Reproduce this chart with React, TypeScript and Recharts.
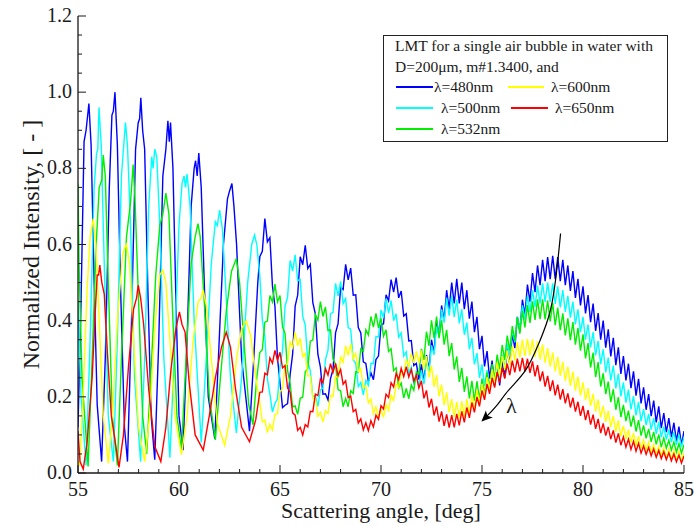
import { LineChart, Line, XAxis, YAxis, Legend, ReferenceDot } from "recharts"

const SERIF = '"Liberation Serif", "DejaVu Serif", serif'
const INK = "#1a1a1a"

// axis ticks
const angleTicks = [55, 56, 57, 58, 59, 60, 61, 62, 63, 64, 65, 66, 67, 68, 69, 70, 71, 72, 73, 74, 75, 76, 77, 78, 79, 80, 81, 82, 83, 84, 85]
const angleLabels = [55, 60, 65, 70, 75, 80, 85]
const intensityTicks = [0, 0.05, 0.1, 0.15, 0.2, 0.25, 0.3, 0.35, 0.4, 0.45, 0.5, 0.55, 0.6, 0.65, 0.7, 0.75, 0.8, 0.85, 0.9, 0.95, 1, 1.05, 1.1, 1.15, 1.2]
const intensityLabels = [0, 0.2, 0.4, 0.6, 0.8, 1, 1.2]

const wavelengths = ["λ=480nm", "λ=500nm", "λ=532nm", "λ=600nm", "λ=650nm"]
const seriesColors = ["#0000ff", "#00ffff", "#00ee00", "#ffff00", "#ff0000"]
const legendTitle = ["LMT for a single air bubble in water with", "D=200μm, m#1.3400, and"]

// 55-64 deg: peaks / troughs, [angle, intensity]
const blueHead = [
  [55.0, 0.12], [55.15, 0.45], [55.3, 0.87], [55.4, 0.9], [55.54, 0.97], [55.65, 0.86], [55.8, 0.5], [55.95, 0.18],
  [56.17, 0.03], [56.35, 0.3], [56.55, 0.75], [56.68, 0.94], [56.75, 0.95], [56.83, 1.0], [56.95, 0.86], [57.1, 0.5],
  [57.3, 0.12], [57.45, 0.03], [57.65, 0.4], [57.85, 0.85], [57.98, 0.92], [58.05, 0.93], [58.11, 0.985], [58.2, 0.9],
  [58.3, 0.85], [58.45, 0.5], [58.62, 0.15], [58.8, 0.035], [59.0, 0.35], [59.2, 0.78], [59.35, 0.85], [59.45, 0.925],
  [59.52, 0.87], [59.58, 0.92], [59.7, 0.8], [59.85, 0.45], [60.0, 0.15], [60.2, 0.06], [60.4, 0.35], [60.6, 0.7],
  [60.75, 0.8], [60.82, 0.82], [60.9, 0.78], [60.98, 0.84], [61.1, 0.75], [61.25, 0.5], [61.45, 0.2], [61.77, 0.09],
  [61.95, 0.3], [62.2, 0.6], [62.4, 0.72], [62.5, 0.74], [62.62, 0.76], [62.72, 0.7], [62.85, 0.6], [63.1, 0.3],
  [63.49, 0.11], [63.7, 0.3], [63.9, 0.5],
]
const cyanHead = [
  [55.0, 0.45], [55.15, 0.2], [55.4, 0.02], [55.6, 0.35], [55.8, 0.75], [55.92, 0.84], [55.98, 0.85], [56.04, 0.96],
  [56.15, 0.86], [56.3, 0.55], [56.5, 0.15], [56.75, 0.03], [56.95, 0.35], [57.15, 0.78], [57.25, 0.85], [57.35, 0.92],
  [57.45, 0.86], [57.6, 0.65], [57.8, 0.25], [58.1, 0.03], [58.3, 0.3], [58.5, 0.7], [58.65, 0.83], [58.72, 0.8],
  [58.8, 0.85], [58.9, 0.83], [59.05, 0.65], [59.25, 0.3], [59.55, 0.04], [59.8, 0.35], [60.0, 0.65], [60.15, 0.76],
  [60.25, 0.78], [60.32, 0.75], [60.4, 0.785], [60.55, 0.7], [60.75, 0.4], [61.1, 0.08], [61.35, 0.3], [61.6, 0.55],
  [61.8, 0.66], [61.9, 0.65], [62.01, 0.69], [62.15, 0.64], [62.35, 0.45], [62.55, 0.25], [62.84, 0.105], [63.1, 0.25],
  [63.4, 0.5], [63.6, 0.6], [63.74, 0.625], [63.85, 0.6],
]
const greenHead = [
  [55.0, 0.76], [55.05, 0.55], [55.2, 0.25], [55.5, 0.017], [55.7, 0.3], [55.9, 0.6], [56.05, 0.75], [56.18, 0.77],
  [56.25, 0.835], [56.35, 0.78], [56.5, 0.5], [56.7, 0.15], [56.95, 0.02], [57.15, 0.3], [57.4, 0.62], [57.6, 0.71],
  [57.73, 0.81], [57.82, 0.72], [58.0, 0.45], [58.2, 0.15], [58.4, 0.05], [58.6, 0.25], [58.85, 0.52], [59.05, 0.65],
  [59.2, 0.68], [59.35, 0.735], [59.5, 0.68], [59.7, 0.4], [59.9, 0.15], [60.12, 0.06], [60.35, 0.3], [60.6, 0.55],
  [60.8, 0.62], [60.94, 0.655], [61.05, 0.62], [61.25, 0.45], [61.5, 0.2], [61.8, 0.087], [62.05, 0.25], [62.35, 0.43],
  [62.6, 0.53], [62.84, 0.563], [63.0, 0.5], [63.25, 0.32], [63.45, 0.18], [63.66, 0.127], [63.85, 0.25],
]
const yellowHead = [
  [55.0, 0.03], [55.08, 0.02], [55.25, 0.2], [55.45, 0.48], [55.6, 0.62], [55.76, 0.668], [55.88, 0.6], [56.05, 0.4],
  [56.25, 0.15], [56.5, 0.025], [56.7, 0.15], [56.95, 0.4], [57.2, 0.57], [57.3, 0.59], [57.4, 0.6], [57.55, 0.55],
  [57.75, 0.35], [58.0, 0.12], [58.3, 0.03], [58.55, 0.15], [58.8, 0.38], [59.05, 0.52], [59.2, 0.533], [59.35, 0.5],
  [59.55, 0.35], [59.8, 0.15], [60.12, 0.048], [60.4, 0.15], [60.7, 0.35], [60.95, 0.45], [61.1, 0.46], [61.19, 0.48],
  [61.35, 0.44], [61.6, 0.3], [61.9, 0.13], [62.26, 0.073], [62.55, 0.15], [62.85, 0.3], [63.1, 0.38], [63.33, 0.4],
  [63.55, 0.36], [63.8, 0.25],
]
const redHead = [
  [55.0, 0.11], [55.1, 0.03], [55.26, 0.01], [55.45, 0.08], [55.7, 0.25], [55.88, 0.45], [55.95, 0.52], [56.02, 0.52],
  [56.08, 0.546], [56.18, 0.5], [56.3, 0.47], [56.45, 0.32], [56.65, 0.15], [57.03, 0.015], [57.25, 0.1], [57.5, 0.28],
  [57.75, 0.43], [57.9, 0.46], [57.98, 0.493], [58.1, 0.46], [58.25, 0.39], [58.5, 0.22], [58.8, 0.07], [59.1, 0.03],
  [59.35, 0.12], [59.6, 0.27], [59.85, 0.38], [60.02, 0.423], [60.15, 0.39], [60.3, 0.37], [60.5, 0.24], [60.8, 0.1],
  [61.2, 0.06], [61.5, 0.15], [61.8, 0.25], [62.1, 0.33], [62.34, 0.37], [62.55, 0.33], [62.8, 0.22], [63.1, 0.12],
  [63.49, 0.082], [63.8, 0.14],
]

// 64-85 deg: the fine ripple, one reading every 0.125 deg
const RIPPLE_START = 64
const RIPPLE_STEP = 0.125
const blueRipple = [
  0.568, 0.582, 0.668, 0.607, 0.618, 0.492, 0.438, 0.302,
  0.238, 0.172, 0.178, 0.182, 0.258, 0.312, 0.438, 0.467,
  0.568, 0.547, 0.598, 0.537, 0.548, 0.447, 0.418, 0.312,
  0.278, 0.207, 0.208, 0.192, 0.248, 0.272, 0.368, 0.392,
  0.488, 0.482, 0.548, 0.507, 0.538, 0.467, 0.468, 0.382,
  0.368, 0.292, 0.288, 0.24, 0.263, 0.245, 0.298, 0.307,
  0.388, 0.392, 0.468, 0.452, 0.508, 0.475, 0.513, 0.46,
  0.478, 0.412, 0.418, 0.347, 0.348, 0.282, 0.288, 0.245,
  0.285, 0.238, 0.31, 0.27, 0.35, 0.315, 0.4, 0.36,
  0.44, 0.4, 0.48, 0.43, 0.5, 0.445, 0.51, 0.445,
  0.5, 0.43, 0.48, 0.405, 0.45, 0.37, 0.41, 0.325,
  0.36, 0.28, 0.32, 0.248, 0.295, 0.23, 0.285, 0.23,
  0.295, 0.25, 0.325, 0.285, 0.365, 0.328, 0.41, 0.373,
  0.455, 0.415, 0.495, 0.45, 0.525, 0.475, 0.545, 0.493,
  0.56, 0.504, 0.567, 0.509, 0.57, 0.509, 0.567, 0.504,
  0.56, 0.493, 0.545, 0.478, 0.53, 0.46, 0.51, 0.44,
  0.49, 0.419, 0.467, 0.396, 0.445, 0.373, 0.42, 0.35,
  0.4, 0.329, 0.377, 0.306, 0.355, 0.283, 0.33, 0.26,
  0.307, 0.243, 0.287, 0.223, 0.267, 0.203, 0.247, 0.183,
  0.225, 0.166, 0.207, 0.149, 0.19, 0.133, 0.175, 0.118,
  0.157, 0.107, 0.144, 0.094, 0.132, 0.083, 0.122, 0.073,
  0.11,
]
const cyanRipple = [
  0.518, 0.402, 0.358, 0.247, 0.208, 0.16, 0.183, 0.195,
  0.278, 0.322, 0.438, 0.462, 0.558, 0.53, 0.573, 0.505,
  0.508, 0.412, 0.388, 0.292, 0.268, 0.2, 0.203, 0.175,
  0.218, 0.222, 0.298, 0.322, 0.418, 0.422, 0.498, 0.465,
  0.503, 0.445, 0.458, 0.382, 0.378, 0.297, 0.288, 0.227,
  0.238, 0.205, 0.243, 0.23, 0.288, 0.287, 0.358, 0.357,
  0.428, 0.407, 0.458, 0.42, 0.453, 0.4, 0.418, 0.357,
  0.368, 0.307, 0.318, 0.262, 0.278, 0.232, 0.258, 0.225,
  0.27, 0.233, 0.295, 0.265, 0.335, 0.31, 0.385, 0.358,
  0.43, 0.395, 0.46, 0.413, 0.465, 0.41, 0.455, 0.393,
  0.43, 0.363, 0.395, 0.325, 0.355, 0.285, 0.315, 0.25,
  0.285, 0.228, 0.27, 0.22, 0.27, 0.228, 0.285, 0.248,
  0.31, 0.275, 0.34, 0.308, 0.375, 0.343, 0.41, 0.375,
  0.44, 0.403, 0.465, 0.423, 0.48, 0.436, 0.492, 0.445,
  0.498, 0.449, 0.5, 0.449, 0.498, 0.444, 0.49, 0.435,
  0.48, 0.423, 0.465, 0.408, 0.45, 0.39, 0.43, 0.37,
  0.41, 0.35, 0.39, 0.33, 0.37, 0.309, 0.347, 0.286,
  0.325, 0.264, 0.303, 0.243, 0.282, 0.222, 0.261, 0.201,
  0.238, 0.185, 0.219, 0.167, 0.202, 0.151, 0.187, 0.136,
  0.168, 0.126, 0.155, 0.114, 0.144, 0.103, 0.134, 0.094,
  0.122, 0.088, 0.114, 0.081, 0.107, 0.074, 0.101, 0.068,
  0.095,
]
const greenRipple = [
  0.316, 0.324, 0.396, 0.399, 0.466, 0.449, 0.496, 0.449,
  0.466, 0.384, 0.366, 0.269, 0.236, 0.174, 0.176, 0.154,
  0.196, 0.199, 0.266, 0.274, 0.346, 0.349, 0.416, 0.401,
  0.45, 0.411, 0.436, 0.374, 0.376, 0.299, 0.286, 0.219,
  0.216, 0.174, 0.196, 0.174, 0.216, 0.209, 0.266, 0.264,
  0.326, 0.319, 0.376, 0.362, 0.411, 0.383, 0.419, 0.381,
  0.406, 0.359, 0.376, 0.319, 0.326, 0.269, 0.276, 0.224,
  0.236, 0.197, 0.222, 0.195, 0.231, 0.217, 0.266, 0.259,
  0.326, 0.297, 0.371, 0.334, 0.401, 0.354, 0.411, 0.354,
  0.401, 0.337, 0.376, 0.307, 0.341, 0.272, 0.306, 0.239,
  0.276, 0.213, 0.254, 0.196, 0.242, 0.19, 0.241, 0.193,
  0.248, 0.204, 0.264, 0.223, 0.286, 0.247, 0.311, 0.272,
  0.336, 0.297, 0.361, 0.322, 0.386, 0.346, 0.409, 0.366,
  0.426, 0.382, 0.441, 0.394, 0.451, 0.402, 0.456, 0.404,
  0.456, 0.403, 0.453, 0.398, 0.446, 0.388, 0.434, 0.375,
  0.419, 0.361, 0.406, 0.349, 0.396, 0.337, 0.381, 0.321,
  0.364, 0.301, 0.341, 0.277, 0.316, 0.252, 0.291, 0.227,
  0.262, 0.207, 0.24, 0.186, 0.22, 0.166, 0.199, 0.147,
  0.179, 0.136, 0.164, 0.122, 0.151, 0.109, 0.139, 0.098,
  0.125, 0.091, 0.116, 0.082, 0.108, 0.075, 0.101, 0.068,
  0.092, 0.065, 0.086, 0.06, 0.081, 0.055, 0.077, 0.052,
  0.074,
]
const yellowRipple = [
  0.184, 0.134, 0.139, 0.106, 0.128, 0.113, 0.154, 0.156,
  0.214, 0.221, 0.284, 0.286, 0.344, 0.329, 0.37, 0.334,
  0.354, 0.306, 0.314, 0.256, 0.254, 0.196, 0.194, 0.149,
  0.159, 0.134, 0.164, 0.156, 0.204, 0.201, 0.254, 0.251,
  0.304, 0.291, 0.334, 0.309, 0.339, 0.299, 0.314, 0.266,
  0.274, 0.224, 0.229, 0.184, 0.194, 0.156, 0.174, 0.143,
  0.168, 0.146, 0.179, 0.164, 0.204, 0.191, 0.234, 0.224,
  0.269, 0.256, 0.299, 0.279, 0.314, 0.289, 0.319, 0.289,
  0.322, 0.271, 0.307, 0.251, 0.282, 0.226, 0.257, 0.201,
  0.232, 0.178, 0.212, 0.159, 0.194, 0.147, 0.187, 0.144,
  0.188, 0.147, 0.194, 0.155, 0.204, 0.167, 0.218, 0.182,
  0.234, 0.199, 0.252, 0.218, 0.272, 0.237, 0.29, 0.255,
  0.307, 0.271, 0.322, 0.284, 0.334, 0.295, 0.344, 0.303,
  0.35, 0.307, 0.352, 0.308, 0.351, 0.305, 0.346, 0.298,
  0.338, 0.289, 0.328, 0.279, 0.317, 0.267, 0.305, 0.255,
  0.292, 0.242, 0.279, 0.229, 0.266, 0.216, 0.253, 0.203,
  0.238, 0.191, 0.223, 0.176, 0.208, 0.161, 0.193, 0.146,
  0.176, 0.134, 0.163, 0.121, 0.15, 0.108, 0.138, 0.097,
  0.124, 0.089, 0.114, 0.08, 0.105, 0.071, 0.097, 0.064,
  0.087, 0.06, 0.081, 0.054, 0.075, 0.049, 0.07, 0.044,
  0.066, 0.04, 0.062, 0.037, 0.059, 0.034, 0.056, 0.031,
  0.053,
]
const redRipple = [
  0.212, 0.213, 0.262, 0.258, 0.302, 0.288, 0.322, 0.296,
  0.317, 0.276, 0.282, 0.223, 0.212, 0.158, 0.152, 0.112,
  0.12, 0.1, 0.127, 0.121, 0.162, 0.161, 0.207, 0.203,
  0.247, 0.237, 0.274, 0.257, 0.287, 0.264, 0.288, 0.256,
  0.272, 0.233, 0.242, 0.198, 0.202, 0.161, 0.167, 0.131,
  0.142, 0.113, 0.132, 0.111, 0.137, 0.121, 0.152, 0.141,
  0.177, 0.168, 0.207, 0.198, 0.237, 0.226, 0.262, 0.245,
  0.275, 0.253, 0.279, 0.252, 0.272, 0.241, 0.257, 0.223,
  0.242, 0.196, 0.217, 0.172, 0.195, 0.151, 0.175, 0.135,
  0.162, 0.124, 0.154, 0.119, 0.152, 0.12, 0.155, 0.125,
  0.162, 0.133, 0.172, 0.145, 0.185, 0.159, 0.2, 0.175,
  0.217, 0.192, 0.234, 0.208, 0.25, 0.224, 0.265, 0.237,
  0.277, 0.248, 0.287, 0.257, 0.295, 0.264, 0.3, 0.267,
  0.302, 0.267, 0.3, 0.263, 0.293, 0.254, 0.283, 0.241,
  0.267, 0.227, 0.255, 0.215, 0.243, 0.204, 0.232, 0.193,
  0.22, 0.183, 0.209, 0.172, 0.198, 0.161, 0.187, 0.15,
  0.176, 0.139, 0.165, 0.127, 0.153, 0.116, 0.142, 0.105,
  0.13, 0.098, 0.121, 0.089, 0.112, 0.08, 0.104, 0.073,
  0.095, 0.068, 0.089, 0.062, 0.083, 0.057, 0.078, 0.052,
  0.071, 0.049, 0.067, 0.045, 0.063, 0.041, 0.059, 0.038,
  0.056, 0.035, 0.053, 0.032, 0.05, 0.029, 0.047, 0.026,
  0.045,
]

// the curved "lambda" arrow, in data units
const arrowPath = [
  [78.89, 0.629], [78.72, 0.541], [78.39, 0.428], [77.81, 0.34], [77.16, 0.27], [76.33, 0.218], [75.68, 0.174], [75.01, 0.137],
]

function toSeries(head: number[][], ripple: number[]) {
  return [
    ...head.map(([angle, value]) => ({ angle, value })),
    ...ripple.map((value, i) => ({ angle: RIPPLE_START + i * RIPPLE_STEP, value })),
  ]
}

const series = [
  toSeries(blueHead, blueRipple),
  toSeries(cyanHead, cyanRipple),
  toSeries(greenHead, greenRipple),
  toSeries(yellowHead, yellowRipple),
  toSeries(redHead, redRipple),
]
const arrowData = arrowPath.map(([angle, value]) => ({ angle, value }))

const BottomTick = (props: any) => {
  const { x, y, payload } = props
  const major = angleLabels.includes(payload.value)
  return (
    <g>
      <line x1={x} x2={x} y1={y} y2={y - (major ? 8 : 4)} stroke={INK} />
      {major && (
        <text x={x} y={y + 23} textAnchor="middle" fontFamily={SERIF} fontSize={20} fill={INK}>
          {payload.value}
        </text>
      )}
    </g>
  )
}

const TopTick = (props: any) => {
  const { x, y, payload } = props
  const major = angleLabels.includes(payload.value)
  return <line x1={x} x2={x} y1={y} y2={y + (major ? 8 : 4)} stroke={INK} />
}

const LeftTick = (props: any) => {
  const { x, y, payload } = props
  const major = intensityLabels.includes(payload.value)
  return (
    <g>
      <line x1={x} x2={x + (major ? 8 : 4)} y1={y} y2={y} stroke={INK} />
      {major && (
        <text x={x - 6} y={y + 6} textAnchor="end" fontFamily={SERIF} fontSize={20} fill={INK}>
          {payload.value.toFixed(1)}
        </text>
      )}
    </g>
  )
}

const RightTick = (props: any) => {
  const { x, y, payload } = props
  const major = intensityLabels.includes(payload.value)
  return <line x1={x} x2={x - (major ? 8 : 4)} y1={y} y2={y} stroke={INK} />
}

// where each legend entry sits inside the box
const legendSlots = [
  { top: 41, swatchX: 12, swatchW: 37, textX: 50 },
  { top: 62, swatchX: 12, swatchW: 37, textX: 57 },
  { top: 83, swatchX: 12, swatchW: 37, textX: 57 },
  { top: 41, swatchX: 124, swatchW: 36, textX: 167 },
  { top: 62, swatchX: 127, swatchW: 37, textX: 171 },
]

const LegendBox = () => (
  <div
    style={{
      position: "relative",
      width: 283,
      height: 105,
      border: "1px solid #222",
      background: "#fff",
      fontFamily: SERIF,
      fontSize: 15.5,
      color: INK,
      lineHeight: "20px",
    }}
  >
    {legendTitle.map((t, i) => (
      <div key={t} style={{ position: "absolute", left: 11, top: i * 20.5, whiteSpace: "nowrap" }}>
        {t}
      </div>
    ))}
    {wavelengths.map((w, i) => {
      const s = legendSlots[i]
      return (
        <div key={w}>
          <div style={{ position: "absolute", left: s.swatchX, top: s.top + 9, width: s.swatchW, height: 2, background: seriesColors[i] }} />
          <div style={{ position: "absolute", left: s.textX, top: s.top, whiteSpace: "nowrap" }}>{w}</div>
        </div>
      )
    })}
  </div>
)

export default function App() {
  return (
    <div style={{ position: "absolute", left: 0, top: 0, width: 694, height: 526, background: "#fff" }}>
      <LineChart width={694} height={526} margin={{ top: 16, right: 10, bottom: 0, left: 0 }}>
        <defs>
          <marker id="lambdaHead" viewBox="0 0 10 10" refX="9" refY="5" markerWidth="13" markerHeight="11" markerUnits="userSpaceOnUse" orient="auto">
            <path d="M0,0.5 L10,5 L0,9.5 L2.5,5 z" fill="#000" />
          </marker>
        </defs>
        <XAxis
          dataKey="angle"
          type="number"
          domain={[55, 85]}
          ticks={angleTicks}
          interval={0}
          height={53}
          tickSize={0}
          tickMargin={0}
          tickLine={false}
          tick={BottomTick}
          axisLine={{ stroke: INK, strokeWidth: 1.3 }}
          allowDataOverflow
          label={{ value: "Scattering angle, [deg]", position: "insideBottom", offset: 8, fontFamily: SERIF, fontSize: 22, fill: INK }}
        />
        <XAxis
          xAxisId="top"
          orientation="top"
          type="number"
          domain={[55, 85]}
          ticks={angleTicks}
          interval={0}
          height={0}
          tickSize={0}
          tickMargin={0}
          tickLine={false}
          tick={TopTick}
          axisLine={{ stroke: INK, strokeWidth: 1.3 }}
          allowDataOverflow
        />
        <YAxis
          type="number"
          domain={[0, 1.2]}
          ticks={intensityTicks}
          interval={0}
          width={78}
          tickSize={0}
          tickMargin={0}
          tickLine={false}
          tick={LeftTick}
          axisLine={{ stroke: INK, strokeWidth: 1.3 }}
          allowDataOverflow
          label={{
            value: "Normalized Intensity, [ - ]",
            angle: -90,
            position: "insideLeft",
            offset: 30,
            fontFamily: SERIF,
            fontSize: 24,
            fill: INK,
            style: { textAnchor: "middle" },
          }}
        />
        <YAxis
          yAxisId="right"
          orientation="right"
          type="number"
          domain={[0, 1.2]}
          ticks={intensityTicks}
          interval={0}
          width={0}
          tickSize={0}
          tickMargin={0}
          tickLine={false}
          tick={RightTick}
          axisLine={{ stroke: INK, strokeWidth: 1.3 }}
          allowDataOverflow
        />
        {series.map((d, i) => (
          <Line
            key={wavelengths[i]}
            data={d}
            dataKey="value"
            name={wavelengths[i]}
            type="linear"
            stroke={seriesColors[i]}
            strokeWidth={1.4}
            dot={false}
            isAnimationActive={false}
          />
        ))}
        <Line
          data={arrowData}
          dataKey="value"
          name="arrow"
          type="natural"
          stroke="#000"
          strokeWidth={1.2}
          dot={false}
          legendType="none"
          markerEnd="url(#lambdaHead)"
          isAnimationActive={false}
        />
        <ReferenceDot
          x={76.45}
          y={0.178}
          r={0}
          fill="none"
          stroke="none"
          label={{ value: "λ", position: "center", fontFamily: SERIF, fontSize: 22, fill: INK }}
        />
        <Legend
          layout="vertical"
          align="center"
          verticalAlign="middle"
          wrapperStyle={{ left: 383, top: 35, width: 285 }}
          content={LegendBox}
        />
      </LineChart>
    </div>
  )
}
